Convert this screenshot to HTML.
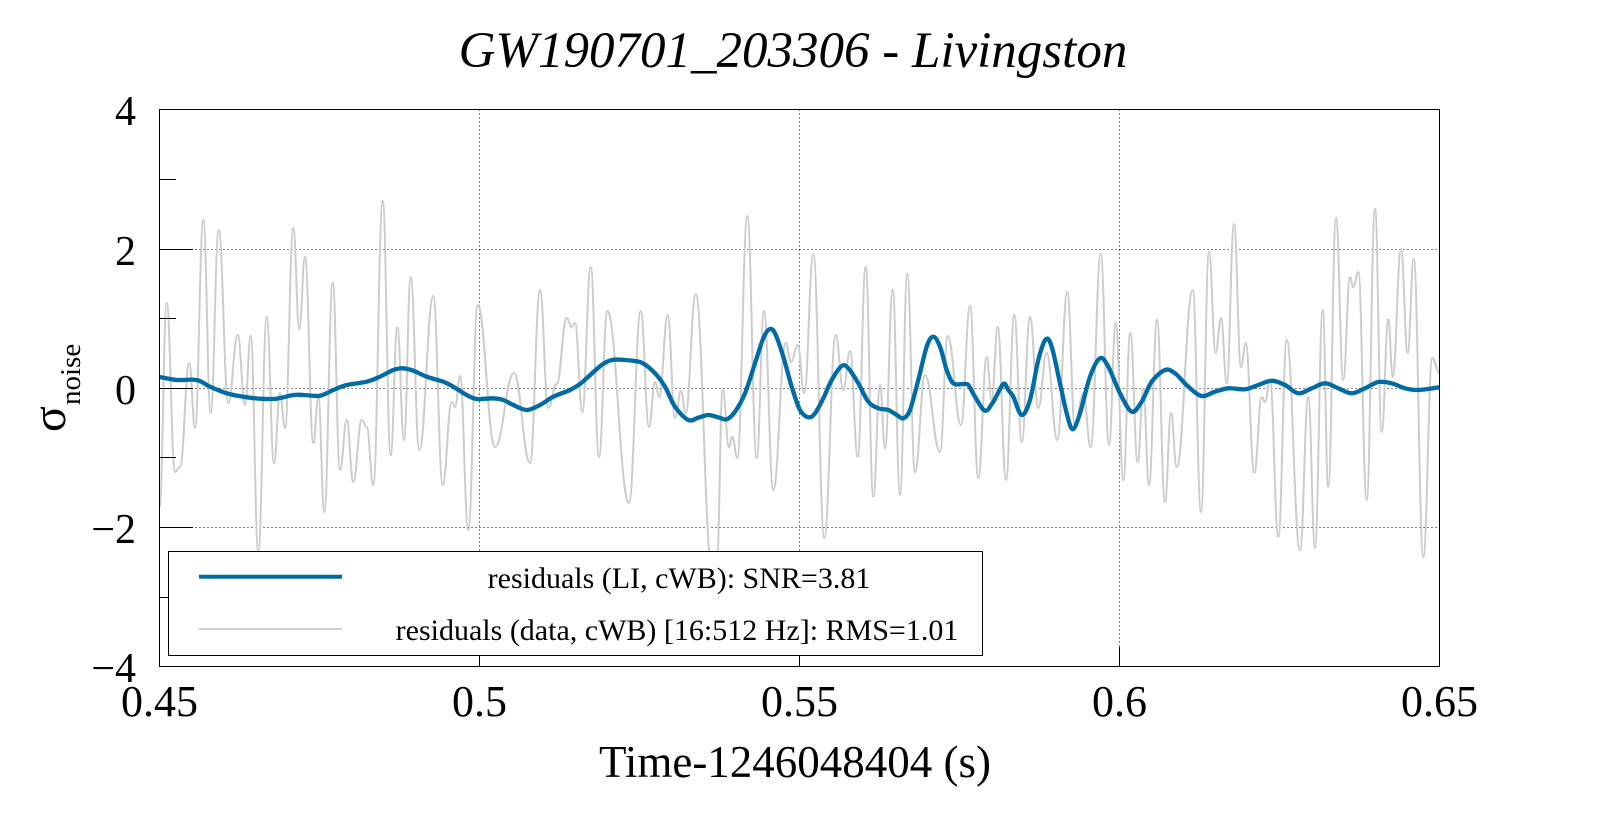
<!DOCTYPE html>
<html>
<head>
<meta charset="utf-8">
<style>
html,body{margin:0;padding:0;background:#fff;}
svg{display:block;}
text{font-family:"Liberation Serif","Times New Roman",serif;fill:#000;}
</style>
</head>
<body>
<svg id="sv" width="1599" height="813" viewBox="0 0 1599 813" xmlns="http://www.w3.org/2000/svg">
<rect x="0" y="0" width="1599" height="813" fill="#fff"/>
<defs>
<clipPath id="pc"><rect x="159.5" y="109.5" width="1280" height="557"/></clipPath>
</defs>

<!-- title -->
<text x="793" y="67" font-size="51" font-style="italic" text-anchor="middle">GW190701_203306 - Livingston</text>

<!-- grid -->
<g stroke="#000" stroke-width="1" stroke-dasharray="1 3" fill="none">
<line x1="159.5" y1="249.5" x2="1439.5" y2="249.5"/>
<line x1="159.5" y1="388.5" x2="1439.5" y2="388.5"/>
<line x1="159.5" y1="527.5" x2="1439.5" y2="527.5"/>
<line x1="479.5" y1="109.5" x2="479.5" y2="666.5"/>
<line x1="799.5" y1="109.5" x2="799.5" y2="666.5"/>
<line x1="1119.5" y1="109.5" x2="1119.5" y2="666.5"/>
</g>

<!-- data -->
<g clip-path="url(#pc)" fill="none" stroke-linejoin="round" stroke-linecap="round">
<polyline id="grey" stroke="#cccccc" stroke-width="2" points="159.5,507 166.7,303 175,472 180,467 189.3,363 195,428 203.3,220 210.7,413 218.7,230 228.3,403 237.7,335 245,405 250.7,336 258.3,552 266.7,317 274,463 280,393 285,428 293.3,228 299.3,329 305,257 313.3,443 318.3,397 324.3,512 332.7,283 340,470 346.7,420 353.3,482 361.7,420 366.7,427 373.3,485 382.7,201 390.7,455 397.3,327 404,440 410.7,277 419.3,450 433.3,296 442.7,485 451.7,402 455,407 460,376 468.3,530 477.7,305 495,447 514,373 530,463 540,290 548.3,408 556.7,384 566.7,318 571.7,327 575,323 582.3,412 590.7,267 599,457 607.3,311 629,503 640.7,311 649,427 655,382 659.3,397 667.7,315 675,418 681,391 685.7,413 695.7,294 711.7,565 716.7,565 722.7,390 729,447 732.3,437 737.3,458 747.3,216 756.7,458 764,311 773.3,490 785.7,343 791,362 797.7,345 804.3,393 813.3,254 824.3,538 835.7,335 843.3,390 850,351 857.7,457 865.7,267 873.3,497 880,385 885,448 892.7,290 900,495 907.3,274 915,472 925,375 940,452 947.7,336 961,425 970,306 978.3,478 986.7,357 991.7,400 997.7,327 1006,480 1014.3,315 1021.7,442 1030,317 1038.3,408 1046.7,353 1057.3,440 1067.3,292 1075,427 1083.3,393 1090.7,447 1100.7,254 1109,445 1115.7,323 1123.3,480 1130.3,333 1137.7,462 1143.3,388 1149,485 1157,320 1165,502 1171,413 1176.7,467 1192.7,290 1201,512 1209,252 1215.7,353 1221,318 1226.7,383 1234,224 1241,367 1245.7,343 1254.3,473 1261.7,397 1265,402 1270,380 1278.3,537 1286.7,340 1300,550 1308.3,397 1315,548 1322.7,310 1328.3,487 1336,218 1343.3,380 1350,277 1353.3,287 1358.3,272 1366.7,500 1375,209 1381.7,432 1388.3,319 1392.7,377 1401,249 1407.7,353 1413.7,259 1423.3,557 1432.3,358 1439.5,373"/>
<polyline id="blue" stroke="#006BA4" stroke-width="4.3" points="159.5,377 176.7,380 196.7,380 210,386.7 226.7,393.3 243.3,396.7 260,398.7 276.7,398.7 293.3,395 303.3,395 320,395.7 333.3,390 346.7,385 366.7,381.7 380,376.7 393.3,370 403.3,368.3 413.3,370.7 426.7,376.7 443.3,381.7 453.3,386.7 466.7,395 476.7,399 493.3,398.3 503.3,400 513.3,405 526.7,410 540,405 553.3,396.7 570,390 580,384 588.3,376.7 601.7,365 611.7,360 625,360 641.7,362.7 655,373.3 665,386.7 675,406.7 688.3,420 698.3,417.7 708.3,415 718.3,417.3 726.7,419.3 735,411.7 745,393.3 755,363.3 763.3,338.3 769.3,329.3 775,333.3 783.3,356.7 791.7,386.7 800,410 808.3,417.3 815,413.3 823.3,398.3 831.7,380 841.7,366 848.3,368.3 858.3,383.3 868.3,401.7 878.3,408.3 888.3,410 896.7,415 903.3,418.3 910,410 918.3,380 926.7,346.7 933.3,336.7 940,346.7 946.7,370 953.3,383.3 963.3,384 968.3,385 975,396.7 985,410.7 993.3,401.7 1003.3,384 1008.3,390 1013.3,396.7 1021.7,415 1030,400 1038.3,360 1045.7,339.3 1051.7,346.7 1060,383.3 1066.7,413.3 1072.7,429.3 1080,413.3 1090,376.7 1100,358.3 1108.3,366.7 1120,393.3 1131.7,411.7 1141.7,401.7 1151.7,381.7 1165,370 1175,373.3 1188.3,386.7 1201.7,396 1215,391.7 1228.3,388.3 1245,389.3 1258.3,385 1271.7,380.7 1285,385 1298.3,393.3 1311.7,388.3 1325,383.3 1338.3,388.3 1351.7,393.3 1365,388.3 1378.3,382 1391.7,383.3 1405,388.3 1418.3,390 1439.5,387.3"/>
</g>

<!-- frame -->
<rect x="159.5" y="109.5" width="1280" height="557" fill="none" stroke="#000" stroke-width="1"/>

<!-- y ticks -->
<g stroke="#000" stroke-width="1">
<line x1="159.5" y1="109.5" x2="193" y2="109.5"/>
<line x1="159.5" y1="249.5" x2="193" y2="249.5"/>
<line x1="159.5" y1="388.5" x2="193" y2="388.5"/>
<line x1="159.5" y1="527.5" x2="193" y2="527.5"/>
<line x1="159.5" y1="666.5" x2="193" y2="666.5"/>
<line x1="159.5" y1="179.5" x2="176" y2="179.5"/>
<line x1="159.5" y1="318.5" x2="176" y2="318.5"/>
<line x1="159.5" y1="457.5" x2="176" y2="457.5"/>
<line x1="159.5" y1="597.5" x2="176" y2="597.5"/>
<line x1="479.5" y1="666.5" x2="479.5" y2="647"/>
<line x1="799.5" y1="666.5" x2="799.5" y2="647"/>
<line x1="1119.5" y1="666.5" x2="1119.5" y2="647"/>
</g>

<!-- legend -->
<rect x="168.5" y="551.5" width="814" height="104" fill="#fff" stroke="#000" stroke-width="1"/>
<line x1="199" y1="576.7" x2="342" y2="576.7" stroke="#006BA4" stroke-width="4"/>
<line x1="199" y1="629" x2="342" y2="629" stroke="#cccccc" stroke-width="2"/>
<text x="679" y="588" font-size="30" text-anchor="middle">residuals (LI, cWB): SNR=3.81</text>
<text x="677" y="640" font-size="30" text-anchor="middle">residuals (data, cWB) [16:512 Hz]: RMS=1.01</text>

<!-- y tick labels -->
<g font-size="42" text-anchor="end">
<text x="136" y="125">4</text>
<text x="136" y="265">2</text>
<text x="136" y="404">0</text>
<text x="136" y="543">&#8722;2</text>
<text x="136" y="682">&#8722;4</text>
</g>

<!-- x tick labels -->
<g font-size="44" text-anchor="middle">
<text x="159.5" y="716">0.45</text>
<text x="479.5" y="716">0.5</text>
<text x="799.5" y="716">0.55</text>
<text x="1119.5" y="716">0.6</text>
<text x="1439.5" y="716">0.65</text>
</g>

<!-- axis titles -->
<text x="795" y="777" font-size="45" text-anchor="middle">Time-1246048404 (s)</text>
<g transform="translate(65,432) rotate(-90)">
<text x="0" y="0" font-size="48">σ</text>
<text x="27" y="15" font-size="29">noise</text>
</g>
</svg>
<script>
(function(){
  var NS="http://www.w3.org/2000/svg";
  function pts(el){
    return el.getAttribute("points").trim().split(/\s+/).map(function(p){var a=p.split(",");return [parseFloat(a[0]),parseFloat(a[1])];});
  }
  function f(n){return n.toFixed(2);}
  function ext(p){
    var d="M"+f(p[0][0])+","+f(p[0][1]);
    for(var i=1;i<p.length;i++){
      var a=p[i-1],b=p[i],dx=b[0]-a[0];
      d+=" C"+f(a[0]+dx*0.42)+","+f(a[1])+" "+f(b[0]-dx*0.42)+","+f(b[1])+" "+f(b[0])+","+f(b[1]);
    }
    return d;
  }
  function cr(p){
    var d="M"+f(p[0][0])+","+f(p[0][1]);
    for(var i=0;i<p.length-1;i++){
      var p0=p[i>0?i-1:i],p1=p[i],p2=p[i+1],p3=p[i+2<p.length?i+2:i+1];
      var c1x=p1[0]+(p2[0]-p0[0])/6,c1y=p1[1]+(p2[1]-p0[1])/6;
      var c2x=p2[0]-(p3[0]-p1[0])/6,c2y=p2[1]-(p3[1]-p1[1])/6;
      d+=" C"+f(c1x)+","+f(c1y)+" "+f(c2x)+","+f(c2y)+" "+f(p2[0])+","+f(p2[1]);
    }
    return d;
  }
  function rep(id,fn){
    var el=document.getElementById(id); if(!el) return;
    var path=document.createElementNS(NS,"path");
    path.setAttribute("d",fn(pts(el)));
    ["stroke","stroke-width"].forEach(function(k){path.setAttribute(k,el.getAttribute(k));});
    path.setAttribute("fill","none");
    path.setAttribute("stroke-linejoin","round");
    path.setAttribute("stroke-linecap","round");
    el.parentNode.replaceChild(path,el);
  }
  try{ rep("grey",ext); rep("blue",cr); }catch(e){}
})();
</script>
</body>
</html>
